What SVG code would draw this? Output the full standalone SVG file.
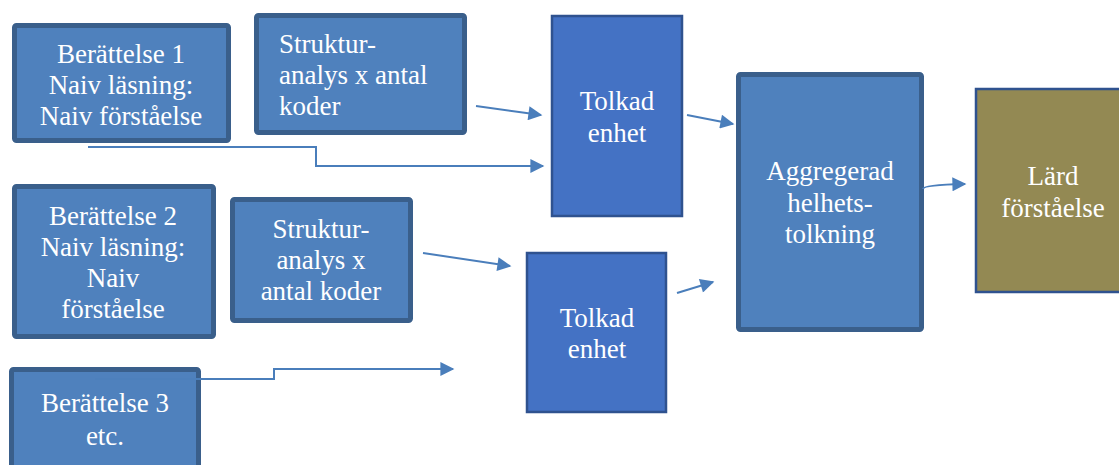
<svg xmlns="http://www.w3.org/2000/svg" width="1119" height="465" viewBox="0 0 1119 465">
<style>
.thick{fill:#4F81BD;stroke:#3A5F8B;stroke-width:5}
.thin{fill:#4472C4;stroke:#2F528F;stroke-width:2.5}
.gold{fill:#938953;stroke:#2F528F;stroke-width:2.5}
text{font-family:"Liberation Serif","DejaVu Serif",serif;font-size:27px;fill:#FFFFFF}
.c{text-anchor:middle}
.con{fill:none;stroke:#4A7EBB;stroke-width:2}
</style>
<defs>
<marker id="ah" viewBox="0 0 10 10" refX="9" refY="5" markerWidth="8.5" markerHeight="7" markerUnits="strokeWidth" orient="auto">
<path d="M0,0 L10,5 L0,10 Z" fill="#4A7EBB"/>
</marker>
</defs>
<rect width="1119" height="465" fill="#FFFFFF"/>
<g id="b1">
<rect class="thick" x="14.5" y="25.5" width="214" height="115" rx="2"/>
<text class="c" x="121" y="63">Berättelse 1</text>
<text class="c" x="121" y="94">Naiv läsning:</text>
<text class="c" x="121" y="125">Naiv förståelse</text>
</g>
<g id="s1">
<rect class="thick" x="256.5" y="15.5" width="208" height="117" rx="2"/>
<text x="279" y="53">Struktur-</text>
<text x="279" y="84">analys x antal</text>
<text x="279" y="115">koder</text>
</g>
<g id="t1">
<rect class="thin" x="552" y="16" width="130" height="200"/>
<text class="c" x="617" y="110">Tolkad</text>
<text class="c" x="617" y="142">enhet</text>
</g>
<g id="agg">
<rect class="thick" x="738.5" y="74.5" width="183" height="255" rx="2"/>
<text class="c" x="830" y="180">Aggregerad</text>
<text class="c" x="830" y="212">helhets-</text>
<text class="c" x="830" y="243">tolkning</text>
</g>
<g id="lard">
<rect class="gold" x="976" y="89" width="160" height="203"/>
<text class="c" x="1053" y="185">Lärd</text>
<text class="c" x="1053" y="217">förståelse</text>
</g>
<g id="b2">
<rect class="thick" x="14.5" y="186.5" width="199" height="150" rx="2"/>
<text class="c" x="113" y="225">Berättelse 2</text>
<text class="c" x="113" y="256">Naiv läsning:</text>
<text class="c" x="113" y="287">Naiv</text>
<text class="c" x="113" y="318">förståelse</text>
</g>
<g id="s2">
<rect class="thick" x="232.5" y="199.5" width="178" height="121" rx="2"/>
<text class="c" x="321" y="238">Struktur-</text>
<text class="c" x="321" y="269">analys x</text>
<text class="c" x="321" y="300">antal koder</text>
</g>
<g id="t2">
<rect class="thin" x="527" y="253" width="139" height="159"/>
<text class="c" x="597" y="327">Tolkad</text>
<text class="c" x="597" y="358">enhet</text>
</g>
<g id="b3">
<rect class="thick" x="11.5" y="369.5" width="187" height="120" rx="2"/>
<text class="c" x="105" y="412">Berättelse 3</text>
<text class="c" x="105" y="445">etc.</text>
</g>
<g id="connectors">
<path class="con" d="M476,106 L541,115" marker-end="url(#ah)"/>
<path class="con" d="M88,147 L316,147 L316,166 L543,166" marker-end="url(#ah)"/>
<path class="con" d="M687,115 L733,124" marker-end="url(#ah)"/>
<path class="con" d="M923,189 Q923,185 965,184" marker-end="url(#ah)"/>
<path class="con" d="M423,253 L510,266" marker-end="url(#ah)"/>
<path class="con" d="M95,379 L196,379" opacity="0.35"/>
<path class="con" d="M196,379 L274,379 L274,369 L453,369" marker-end="url(#ah)"/>
<path class="con" d="M677,293 L713,282" marker-end="url(#ah)"/>
</g>
</svg>
